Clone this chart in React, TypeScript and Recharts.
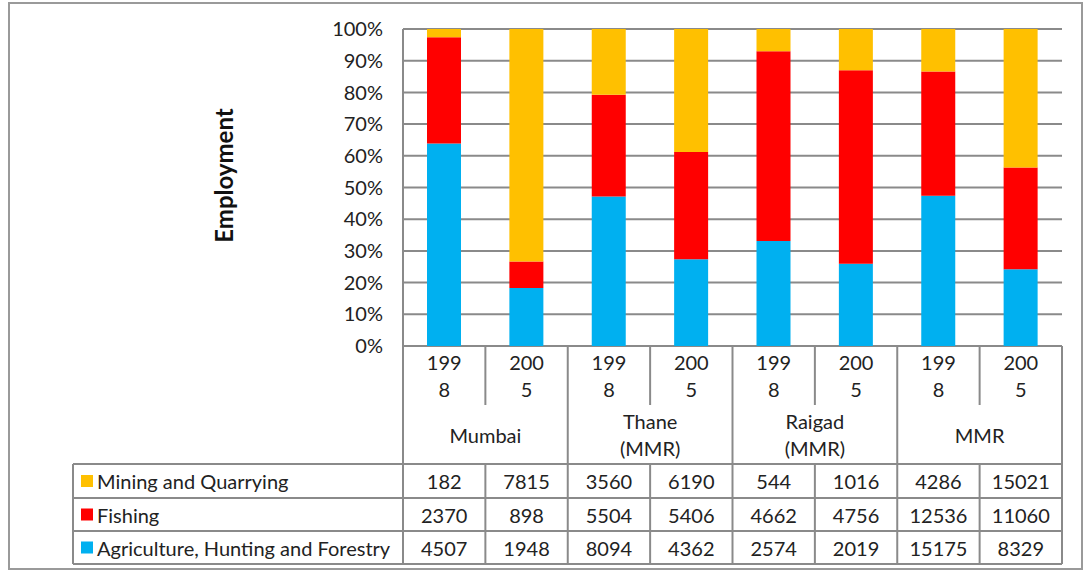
import { BarChart, Bar, XAxis, YAxis, CartesianGrid, Label } from 'recharts';

// categories (one per bar) and the region each pair of bars belongs to
const years = ['1998', '2005', '1998', '2005', '1998', '2005', '1998', '2005'];
const regions = ['Mumbai', 'Mumbai', 'Thane', 'Thane', 'Raigad', 'Raigad', 'MMR', 'MMR'];
const regionLabels: string[][] = [['Mumbai'], ['Thane', '(MMR)'], ['Raigad', '(MMR)'], ['MMR']];

// series values (employment counts)
const mining = [182, 7815, 3560, 6190, 544, 1016, 4286, 15021];
const fishing = [2370, 898, 5504, 5406, 4662, 4756, 12536, 11060];
const agriculture = [4507, 1948, 8094, 4362, 2574, 2019, 15175, 8329];

const yTicks = [0, 0.1, 0.2, 0.3, 0.4, 0.5, 0.6, 0.7, 0.8, 0.9, 1];

const seriesRows = [
  { name: 'Mining and Quarrying', values: mining, color: '#FFC000' },
  { name: 'Fishing', values: fishing, color: '#FF0000' },
  { name: 'Agriculture, Hunting and Forestry', values: agriculture, color: '#00B0F0' },
];

const data = years.map((y, i) => ({
  key: `${regions[i]}-${y}`,
  agriculture: agriculture[i],
  fishing: fishing[i],
  mining: mining[i],
}));

const FONT = 'Lato, sans-serif';
const LINE = '#8a8a8a';

// layout of the table under the plot
const PLOT_LEFT = 403;
const PLOT_RIGHT = 1062;
const PLOT_BOTTOM = 346;
const YEAR_ROW_BOTTOM = 405;
const ROW_TOPS = [464, 498, 531];
const TABLE_BOTTOM = 564;
const LEGEND_LEFT = 73;

function TableTick(props: any) {
  const { x, index } = props;
  const bw = (PLOT_RIGHT - PLOT_LEFT) / years.length;
  const left = x - bw / 2;
  const right = x + bw / 2;
  const year = years[index];
  const txt = { fontFamily: FONT, fontSize: 20, fill: '#222', textAnchor: 'middle' as const, dominantBaseline: 'central' as const };

  return (
    <g>
      {/* legend column + full width lines, drawn once */}
      {index === 0 && (
        <g>
          <line x1={PLOT_LEFT} x2={PLOT_LEFT} y1={PLOT_BOTTOM} y2={TABLE_BOTTOM} stroke={LINE} strokeWidth={2} />
          <line x1={LEGEND_LEFT} x2={LEGEND_LEFT} y1={ROW_TOPS[0]} y2={TABLE_BOTTOM} stroke={LINE} strokeWidth={2} />
          {[...ROW_TOPS, TABLE_BOTTOM].map((ry) => (
            <line key={ry} x1={LEGEND_LEFT} x2={PLOT_RIGHT} y1={ry} y2={ry} stroke={LINE} strokeWidth={2} />
          ))}
          {seriesRows.map((s, r) => {
            const cy = (ROW_TOPS[r] + (ROW_TOPS[r + 1] ?? TABLE_BOTTOM)) / 2;
            return (
              <g key={s.name}>
                <rect x={81} y={cy - 6} width={12} height={12} fill={s.color} />
                <text x={97} y={cy} fontFamily={FONT} fontSize={20} fill="#222" dominantBaseline="central">
                  {s.name}
                </text>
              </g>
            );
          })}
        </g>
      )}

      {/* separators */}
      {index % 2 === 1 && (
        <g>
          <line x1={left} x2={left} y1={PLOT_BOTTOM} y2={YEAR_ROW_BOTTOM} stroke={LINE} strokeWidth={2} />
          <line x1={left} x2={left} y1={ROW_TOPS[0]} y2={TABLE_BOTTOM} stroke={LINE} strokeWidth={2} />
        </g>
      )}
      {index % 2 === 0 && index > 0 && (
        <line x1={left} x2={left} y1={PLOT_BOTTOM} y2={TABLE_BOTTOM} stroke={LINE} strokeWidth={2} />
      )}
      {index === years.length - 1 && (
        <line x1={right} x2={right} y1={PLOT_BOTTOM} y2={TABLE_BOTTOM} stroke={LINE} strokeWidth={2} />
      )}

      {/* year, wrapped like the original */}
      <text x={x} y={362} {...txt}>{year.slice(0, 3)}</text>
      <text x={x} y={389} {...txt}>{year.slice(3)}</text>

      {/* region label once per pair */}
      {index % 2 === 0 && (() => {
        const lines = regionLabels[index / 2];
        const start = lines.length === 1 ? 435 : 421;
        return lines.map((l, k) => (
          <text key={l} x={right} y={start + k * 27} {...txt}>{l}</text>
        ));
      })()}

      {/* data rows */}
      {seriesRows.map((s, r) => {
        const cy = (ROW_TOPS[r] + (ROW_TOPS[r + 1] ?? TABLE_BOTTOM)) / 2;
        return (
          <text key={s.name} x={x} y={cy} {...txt}>{s.values[index]}</text>
        );
      })}
    </g>
  );
}

function EmploymentLabel(props: any) {
  const { viewBox } = props;
  const cx = viewBox.x - 120;
  const cy = viewBox.y + viewBox.height / 2 - 12;
  return (
    <text
      x={cx}
      y={cy}
      transform={`rotate(-90 ${cx} ${cy})`}
      textAnchor="middle"
      dominantBaseline="central"
      fontFamily={FONT}
      fontSize={24}
      fontWeight="bold"
      fill="#111"
    >
      Employment
    </text>
  );
}

export default function App() {
  return (
    <div style={{ position: 'absolute', left: 0, top: 0, width: 1083, height: 571, background: '#fff' }}>
      <div
        style={{
          position: 'absolute',
          left: 8,
          top: 2,
          width: 1071,
          height: 564,
          border: '2px solid #9a9a9a',
        }}
      />
      <div style={{ position: 'absolute', left: 0, top: 0 }}>
        <BarChart
          width={1083}
          height={571}
          data={data}
          stackOffset="expand"
          margin={{ top: 29, right: 21, left: 343, bottom: 7 }}
        >
          <CartesianGrid vertical={false} stroke={LINE} strokeWidth={2} />
          <XAxis
            dataKey="key"
            height={218}
            interval={0}
            axisLine={false}
            tickLine={false}
            tick={<TableTick />}
          />
          <YAxis
            width={60}
            domain={[0, 1]}
            ticks={yTicks}
            tickFormatter={(v: number) => `${Math.round(v * 100)}%`}
            axisLine={{ stroke: LINE, strokeWidth: 2 }}
            tickLine={false}
            tickSize={6}
            tickMargin={14}
            tick={{ fontFamily: FONT, fontSize: 20, fill: '#222' }}
          >
            <Label content={<EmploymentLabel />} />
          </YAxis>
          <Bar dataKey="agriculture" stackId="a" fill="#00B0F0" barSize={34} isAnimationActive={false} />
          <Bar dataKey="fishing" stackId="a" fill="#FF0000" barSize={34} isAnimationActive={false} />
          <Bar dataKey="mining" stackId="a" fill="#FFC000" barSize={34} isAnimationActive={false} />
        </BarChart>
      </div>
    </div>
  );
}
